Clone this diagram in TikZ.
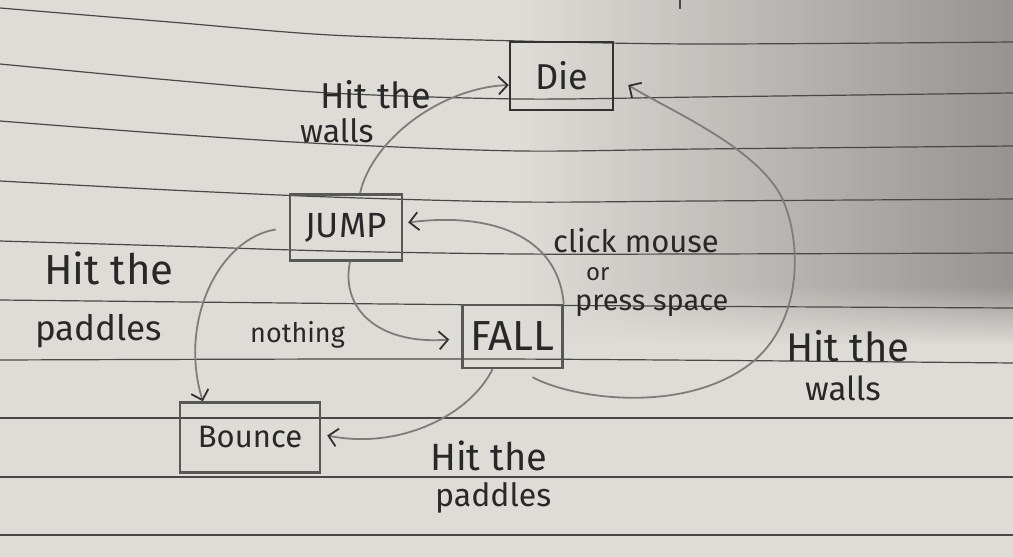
\documentclass[tikz,border=0pt]{standalone}
\usepackage{fontspec}
\setmainfont{Fira Sans}
\usetikzlibrary{arrows.meta,calc,fadings}
\definecolor{paper}{RGB}{222,220,215}
\definecolor{shadowmid}{RGB}{192,190,185}
\definecolor{shadowdark}{RGB}{150,148,144}
\definecolor{rulecol}{RGB}{72,72,70}
\definecolor{boxpen}{RGB}{88,88,86}
\definecolor{diepen}{RGB}{50,50,48}
\definecolor{curvepen}{RGB}{125,125,122}
\definecolor{ink}{RGB}{40,40,40}
\newcommand{\fsz}[1]{\fontsize{#1}{#1}\selectfont}
\begin{document}
\begin{tikzpicture}[x=1pt,y=-1pt,
  paperline/.style={rulecol, line width=1.2pt},
  statebox/.style={draw=boxpen, line width=2.4pt, inner sep=0pt, text=ink},
  edgeline/.style={curvepen, line width=1.8pt,
    -{Straight Barb[length=9pt,width=18pt,color=diepen]}},
  lbl/.style={text=ink, inner sep=0pt, anchor=base west},
  shadowfill/.style={left color=paper, middle color=shadowmid, right color=shadowdark},
]
\useasboundingbox (0,0) rectangle (1013,557);
\fill[paper] (0,0) rectangle (1013,557);
% shadow over the upper right of the sheet
\shade[shadowfill] (520,0) rectangle (1013,285);
\shade[shadowfill, path fading=south] (520,285) rectangle (1013,345);
% ruled lines of the paper
\draw[paperline] plot[smooth] coordinates {(0,8) (170,22) (330,35) (520,41) (700,44) (1013,42)};
\draw[paperline] plot[smooth] coordinates {(0,64) (170,80) (330,93) (520,99) (700,97) (1013,93)};
\draw[paperline] plot[smooth] coordinates {(0,121) (170,134) (330,144) (520,151) (700,149) (1013,146)};
\draw[paperline] plot[smooth] coordinates {(0,181) (170,190) (330,197) (520,202) (700,201) (1013,199)};
\draw[paperline] plot[smooth] coordinates {(0,241) (170,246) (330,251) (520,254) (700,254) (1013,253)};
\draw[paperline] plot[smooth] coordinates {(0,300) (500,305) (1013,308)};
\draw[paperline] plot[smooth] coordinates {(0,360) (500,359) (1013,363)};
\draw[paperline] (0,418) -- (1013,418);
\draw[paperline] (0,477) -- (1013,477);
\draw[paperline] (0,535) -- (1013,535);
\draw[paperline] (680,0) -- (680,9);

% states
\node[statebox, draw=diepen, minimum width=103pt, minimum height=68pt, font=\fsz{36}] (die) at (561.5,76) {Die};
\node[statebox, minimum width=112pt, minimum height=66pt, font=\fsz{35}] (jump) at (346,227.5) {JUMP};
\node[statebox, minimum width=100pt, minimum height=63pt, font=\fsz{42}] (fall) at (512.5,336.5) {FALL};
\node[statebox, minimum width=140pt, minimum height=70pt, font=\fsz{31}] (bounce) at (250,437.5) {Bounce};

% transitions
\draw[edgeline] ([xshift=14pt]jump.north) .. controls (372,140) and (440,88) .. ([yshift=-9pt]die.west);
\draw[edgeline] ([xshift=20pt,yshift=-8pt]fall.south) .. controls (575,400) and (690,415) .. (755,360)
  .. controls (800,320) and (802,250) .. (785,205)
  .. controls (765,150) and (668,110) .. ([xshift=14pt,yshift=-9pt]die.east);
\draw[edgeline] (fall.north east) .. controls (558,235) and (490,212) .. ([xshift=5pt,yshift=5pt]jump.east);
\draw[edgeline] ([xshift=4pt]jump.south) .. controls (340,310) and (380,345) .. ([xshift=-12pt,yshift=-3pt]fall.west);
\draw[edgeline] ([xshift=-13pt,yshift=-2pt]jump.west) .. controls (220,238) and (178,320) .. ([xshift=24pt]bounce.north west);
\draw[edgeline] ([xshift=-20pt]fall.south) .. controls (470,415) and (400,450) .. ([xshift=6pt,yshift=2pt]bounce.east);

% labels
\node[lbl, font=\fsz{36}] (l1a) at (320,108) {Hit the};
\node[lbl, font=\fsz{32}] (l1b) at (300,142) {walls};
\node[lbl, font=\fsz{42}] (l2a) at (44,284) {Hit the};
\node[lbl, font=\fsz{35}] (l2b) at (35,340) {paddles};
\node[lbl, font=\fsz{27}] (l3) at (250,342) {nothing};
\node[lbl, font=\fsz{31}] (l4a) at (553,252) {click mouse};
\node[lbl, font=\fsz{24}] (l4b) at (586,280) {or};
\node[lbl, font=\fsz{29}] (l4c) at (575,310) {press space};
\node[lbl, font=\fsz{40}] (l5a) at (786,361) {Hit the};
\node[lbl, font=\fsz{33}] (l5b) at (805,400) {walls};
\node[lbl, font=\fsz{38}] (l6a) at (430,470) {Hit the};
\node[lbl, font=\fsz{32}] (l6b) at (435,506) {paddles};
\end{tikzpicture}
\end{document}
